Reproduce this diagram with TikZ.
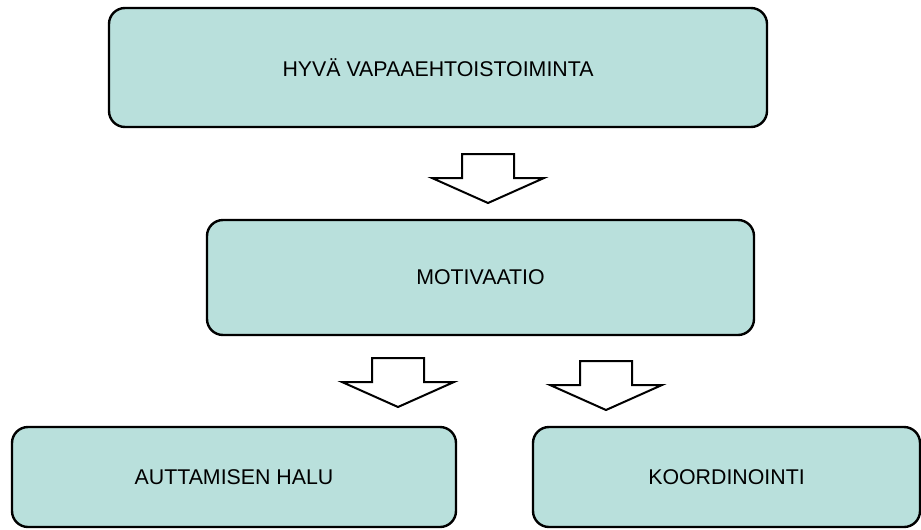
\documentclass[tikz,border=0pt]{standalone}
\usepackage{fontspec}
\setmainfont{Liberation Sans}
\usetikzlibrary{positioning}
\definecolor{boxfill}{RGB}{185,224,220}
\tikzset{
    box/.style={draw, line width=1.8pt, fill=boxfill, rounded corners=12pt,
        inner sep=0pt, font=\fontsize{16}{19}\selectfont},
    pics/downarrow/.style={code={
        \draw[line width=1.5pt, line join=miter, fill=white]
            (-26,0) -- (26,0) -- (26,24) -- (56,24) -- (0,49) -- (-56,24) -- (-26,24) -- cycle;
    }}
}
\begin{document}
\begin{tikzpicture}[x=0.75pt, y=-0.75pt]
        \useasboundingbox (0,0) rectangle (921,529);
        \clip (0,0) rectangle (921,529);

        % Boxes
        \node[box, minimum width=658*0.75pt, minimum height=119*0.75pt] (hyva) at (438,67.5) {HYVÄ VAPAAEHTOISTOIMINTA};
        \node[box, minimum width=547*0.75pt, minimum height=115*0.75pt] (motiv) at (480.5,277.5) {MOTIVAATIO};
        \node[box, minimum width=444*0.75pt, minimum height=100*0.75pt] (auttaminen) at (234,477) {AUTTAMISEN HALU};
        \node[box, minimum width=387*0.75pt, minimum height=100*0.75pt] (koord) at (726.5,477) {KOORDINOINTI};

        % Block arrows
        \foreach \ax/\ay in {488/154, 398/358, 606/361}
            {
                \pic at (\ax,\ay) {downarrow};
            }
\end{tikzpicture}
\end{document}
